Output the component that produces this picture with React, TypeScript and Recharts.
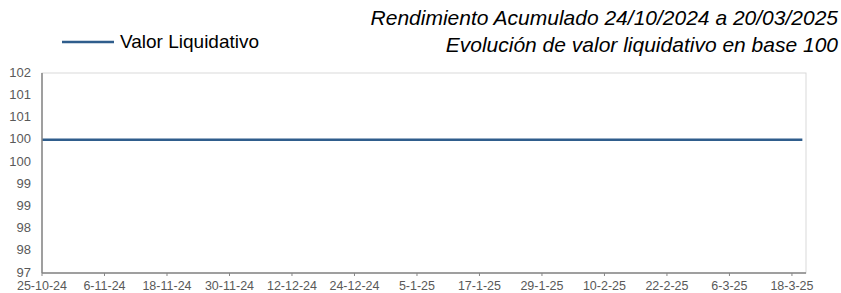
import React from "react";
import { LineChart, Line, XAxis, YAxis } from "recharts";

// day offsets from 25-10-24 and the tick labels shown on the axis
const tickDays = [0, 12, 24, 36, 48, 60, 72, 84, 96, 108, 120, 132, 144];
const tickLabels = [
  "25-10-24", "6-11-24", "18-11-24", "30-11-24", "12-12-24", "24-12-24",
  "5-1-25", "17-1-25", "29-1-25", "10-2-25", "22-2-25", "6-3-25", "18-3-25",
];

// NAV in base 100, read at the labelled dates plus the last day (20-3-25)
const pointDays = [0, 12, 24, 36, 48, 60, 72, 84, 96, 108, 120, 132, 144, 146];
const navValues = [100, 100, 100, 100, 100, 100, 100, 100, 100, 100, 100, 100, 100, 100];

const yTicks = [97, 97.5, 98, 98.5, 99, 99.5, 100, 100.5, 101, 101.5];

const data = pointDays.map((d, i) => ({ day: d, nav: navValues[i] }));

const FONT = "'Liberation Sans', Arial, sans-serif";
const LINE_COLOR = "#2F5D8C";

export default function App() {
  return (
    <div style={{ position: "absolute", left: 0, top: 0, width: 841, height: 293, background: "#fff" }}>
      <div
        style={{
          position: "absolute",
          right: 3,
          top: 4,
          textAlign: "right",
          fontFamily: FONT,
          fontStyle: "italic",
          fontSize: 21,
          lineHeight: "27px",
          color: "#000",
          whiteSpace: "nowrap",
        }}
      >
        <div>Rendimiento Acumulado 24/10/2024 a 20/03/2025</div>
        <div>Evolución de valor liquidativo en base 100</div>
      </div>
      <div
        style={{
          position: "absolute",
          left: 62,
          top: 31,
          display: "flex",
          alignItems: "center",
          fontFamily: FONT,
          fontSize: 19,
          color: "#000",
          whiteSpace: "nowrap",
        }}
      >
        <svg width={52} height={6} style={{ marginRight: 6 }}>
          <line x1={0} y1={3} x2={52} y2={3} stroke={LINE_COLOR} strokeWidth={2.5} />
        </svg>
        <span>Valor Liquidativo</span>
      </div>
      <LineChart
        width={841}
        height={293}
        data={data}
        margin={{ top: 73, right: 35, bottom: 0, left: 0 }}
        style={{ position: "absolute", left: 0, top: 0 }}
      >
        <rect x={42} y={73} width={764} height={200} fill="none" stroke="#D9D9D9" strokeWidth={1} />
        <XAxis
          dataKey="day"
          type="number"
          domain={[0, 146.7]}
          ticks={tickDays}
          tickFormatter={(v: number) => tickLabels[tickDays.indexOf(v)] ?? ""}
          interval={0}
          height={20}
          axisLine={{ stroke: "#868686", strokeWidth: 1.5 }}
          tickLine={{ stroke: "#868686" }}
          tickSize={3}
          tickMargin={5}
          tick={{ fontSize: 12.5, fill: "#595959", fontFamily: FONT }}
          allowDataOverflow
        />
        <YAxis
          type="number"
          domain={[97, 101.5]}
          ticks={yTicks}
          interval={0}
          width={42}
          tickFormatter={(v: number) => String(Math.round(v))}
          axisLine={{ stroke: "#868686", strokeWidth: 1.5 }}
          tickLine={false}
          tickSize={0}
          tickMargin={11}
          tick={{ fontSize: 13, fill: "#595959", fontFamily: FONT, dy: -1 }}
          allowDataOverflow
        />
        <Line
          type="linear"
          dataKey="nav"
          stroke={LINE_COLOR}
          strokeWidth={2.5}
          dot={false}
          isAnimationActive={false}
        />
      </LineChart>
    </div>
  );
}
